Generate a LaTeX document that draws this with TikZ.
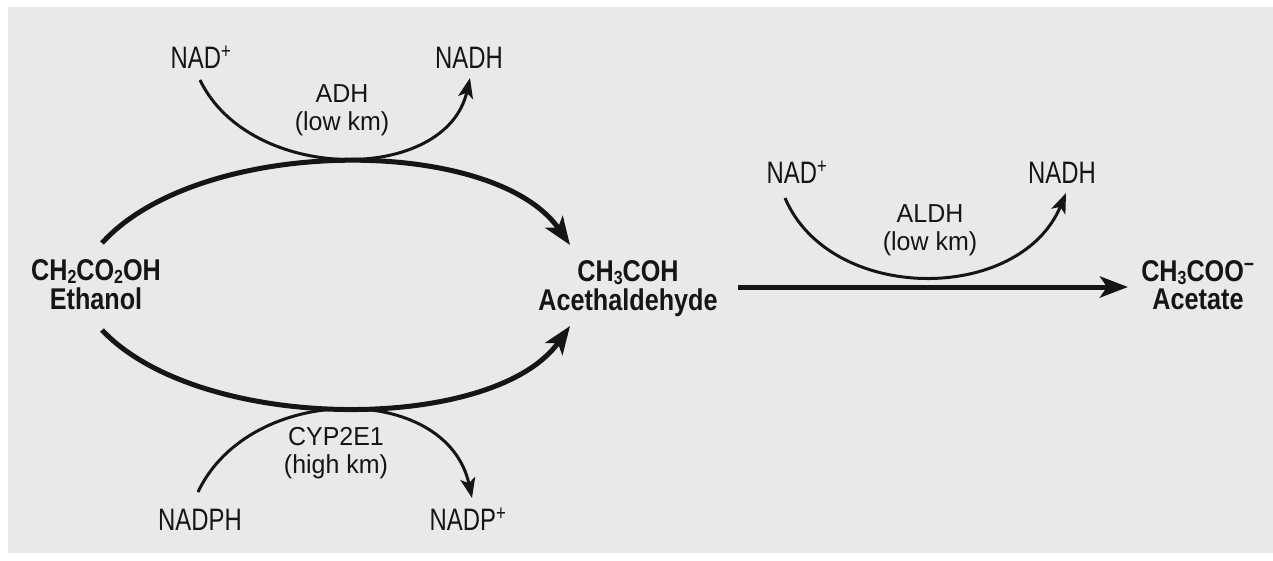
\documentclass[tikz,border=0pt]{standalone}
\usepackage{fontspec}
\setmainfont{Liberation Sans}
\newfontfamily\coff{Liberation Sans}[FakeStretch=0.77]
\newfontfamily\enzf{Liberation Sans}[FakeStretch=0.96]
\newfontfamily\chemf{Liberation Sans}[FakeStretch=0.84]
\newcommand\lowsub[1]{\raisebox{-3pt}{\fontsize{19}{19}\selectfont #1}}
\newcommand\twoline[2]{\begin{tabular}[t]{@{}c@{}}#1\\#2\end{tabular}}
\usetikzlibrary{arrows.meta}
\definecolor{bgc}{HTML}{E9E9E9}
\definecolor{ink}{HTML}{151515}
\begin{document}
\begin{tikzpicture}[x=1pt,y=-1pt,
  cof/.style={anchor=base, inner sep=0pt, text=ink, font=\coff\fontsize{31}{31}\selectfont},
  enz/.style={anchor=base, inner sep=0pt, text=ink, font=\enzf\fontsize{26}{28.5}\selectfont},
  chem/.style={anchor=base, inner sep=0pt, text=ink, font=\chemf\bfseries\fontsize{30}{26.5}\selectfont},
  bigarr/.style={draw=ink, line width=5pt, -{Stealth[length=28pt,width=21pt,inset=7pt]}},
  smallarr/.style={draw=ink, line width=3pt, -{Stealth[length=20pt,width=15pt,inset=5pt]}}]
\useasboundingbox (0,0) rectangle (1273,560);
\fill[bgc] (8,7) rectangle (1273,553);

% cofactor labels
\node[cof] (nadA)  at (201,68)  {NAD\textsuperscript{+}};
\node[cof] (nadhA) at (469,68)  {NADH};
\node[cof] (nadB)  at (797,183) {NAD\textsuperscript{+}};
\node[cof] (nadhB) at (1062,183){NADH};
\node[cof] (nadph) at (200,530) {NADPH};
\node[cof] (nadp)  at (468,530) {NADP\textsuperscript{+}};

% enzyme labels
\node[enz] (adh)   at (342,102) {\twoline{ADH}{(low km)}};
\node[enz] (aldh)  at (930,222) {\twoline{ALDH}{(low km)}};
\node[enz] (cyp)   at (336,445) {\twoline{CYP2E1}{(high km)}};

% chemical labels
\node[chem] (eth)  at (96,280)  {\twoline{CH\lowsub{2}CO\lowsub{2}OH}{Ethanol}};
\node[chem] (ald)  at (628,281) {\twoline{CH\lowsub{3}COH}{Acethaldehyde}};
\node[chem] (ace)  at (1198,281){\twoline{CH\lowsub{3}COO\textsuperscript{−}}{Acetate}};

% arc end points
\coordinate (e1) at (102,243);
\coordinate (a1) at (570,245);
\coordinate (e2) at (102,330);
\coordinate (a2) at (570,326);
\coordinate (s1) at (200,80);
\coordinate (t1) at (470,78);
\coordinate (s2) at (198,492);
\coordinate (t2) at (472,498);
\coordinate (s3) at (785,198);
\coordinate (t3) at (1066,193);
\coordinate (l1) at (738,287);
\coordinate (l2) at (1128,287);

% connectors
\draw[bigarr] (e1) .. controls (200,135) and (494,135) .. (a1);
\draw[bigarr] (e2) .. controls (200,434) and (494,434) .. (a2);
\draw[smallarr] (s1) .. controls (250,184) and (446,184) .. (t1);
\draw[smallarr] (s2) .. controls (250,382) and (447,382) .. (t2);
\draw[smallarr] (s3) .. controls (830,304) and (1020,304) .. (t3);
\draw[bigarr] (l1) -- (l2);
\end{tikzpicture}
\end{document}
